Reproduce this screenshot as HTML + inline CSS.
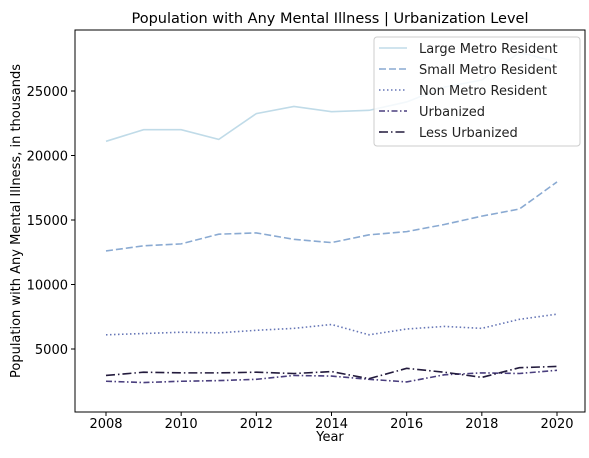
<!DOCTYPE html>
<html><head><meta charset="utf-8"><style>
body{margin:0;background:#fff;font-family:"Liberation Sans",sans-serif;}
svg text{font-family:"DejaVu Sans","Liberation Sans",sans-serif;}
</style></head><body>
<svg id="c" width="589" height="453"></svg>
<script>
const years=[2008,2009,2010,2011,2012,2013,2014,2015,2016,2017,2018,2019,2020];
const largeMetro=[21100,22000,22000,21250,23250,23800,23400,23500,24150,25300,25850,28000,27250];
const smallMetro=[12600,13000,13150,13900,14000,13500,13250,13850,14100,14650,15300,15850,17950];
const nonMetro=[6100,6200,6300,6250,6450,6600,6900,6100,6550,6750,6600,7300,7700];
const urbanized=[2500,2400,2500,2550,2650,2950,2900,2650,2450,3000,3150,3100,3350];
const lessUrbanized=[2950,3200,3150,3150,3200,3100,3250,2700,3500,3200,2800,3550,3650];
const xTicks=[2008,2010,2012,2014,2016,2018,2020];
const yTicks=[5000,10000,15000,20000,25000];
const seriesNames=["Large Metro Resident","Small Metro Resident","Non Metro Resident","Urbanized","Less Urbanized"];
const L=75,R=585,T=30,B=412;
const X=v=>106+(v-2008)*(557-106)/12;
const Y=v=>349-(v-5000)*0.0129;
const s=document.getElementById('c');const NS="http://www.w3.org/2000/svg";
function el(t,a,p){const e=document.createElementNS(NS,t);for(const k in a)e.setAttribute(k,a[k]);(p||s).appendChild(e);return e;}
function tx(x,y,str,a){const e=el('text',Object.assign({x:x,y:y,'font-size':13,fill:'#000'},a||{}));e.textContent=str;return e;}
const styles=[{c:'#c0dbe8',d:''},{c:'#8aaad2',d:'7,3'},{c:'#6676b6',d:'1.5,2.5'},{c:'#4a3f7e',d:'6,2.5,1.5,2.5'},{c:'#231b3d',d:'9,3,1.5,3'}];
const data=[largeMetro,smallMetro,nonMetro,urbanized,lessUrbanized];
const keys=['large-metro-line','small-metro-line','non-metro-line','urbanized-line','less-urbanized-line'];
data.forEach((d,i)=>{
 const p=el('polyline',{points:d.map((v,j)=>X(years[j])+','+Y(v)).join(' '),fill:'none',stroke:styles[i].c,'stroke-width':1.6,'stroke-dasharray':styles[i].d});
 
 
});
const fr=el('rect',{x:L,y:T,width:R-L,height:B-T,fill:'none',stroke:'#000','stroke-width':1});

xTicks.forEach(v=>{el('line',{x1:X(v),x2:X(v),y1:B,y2:B+4,stroke:'#000'});const t=tx(X(v),B+16,v,{'text-anchor':'middle'});
 });
yTicks.forEach(v=>{el('line',{x1:L-4,x2:L,y1:Y(v),y2:Y(v),stroke:'#000'});const t=tx(L-7,Y(v)+5,v,{'text-anchor':'end'});
 });
const xt=tx(330,441,'Year',{'text-anchor':'middle'});
const yt=tx(0,0,'Population with Any Mental Illness, in thousands',{'text-anchor':'middle',transform:'translate(20,221) rotate(-90)'});

const ti=tx(330,23,'Population with Any Mental Illness | Urbanization Level',{'text-anchor':'middle','font-size':14.5});

const lg=el('g',{});
el('rect',{x:374,y:37,width:206,height:109,rx:3,fill:'#fff','fill-opacity':0.8,stroke:'#ccc'},lg);
seriesNames.forEach((n,i)=>{const y=48+i*21;
 el('line',{x1:379,x2:407,y1:y,y2:y,stroke:styles[i].c,'stroke-width':1.6,'stroke-dasharray':styles[i].d},lg);
 const t=tx(419,y+5,n,{'font-size':13,fill:'#222'});lg.appendChild(t);});
</script></body></html>
